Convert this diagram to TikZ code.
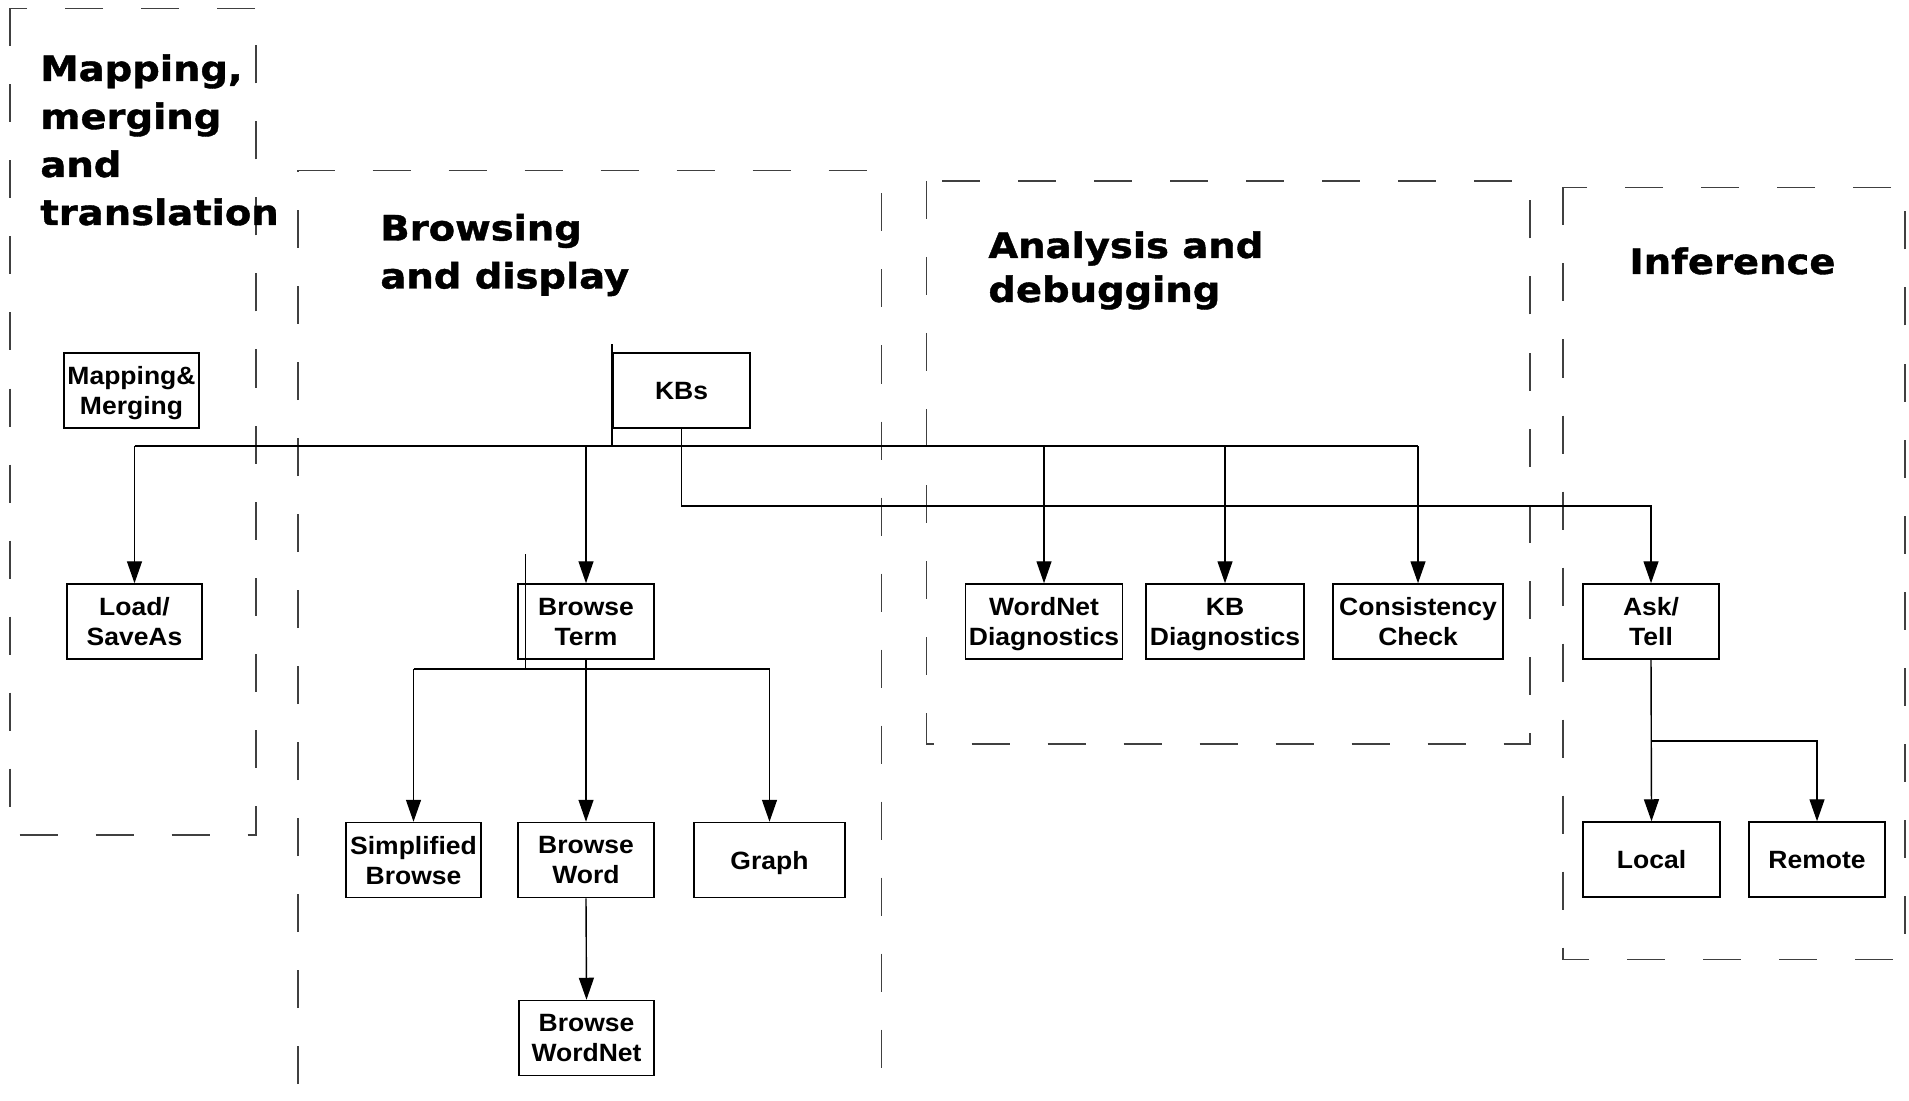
\documentclass[tikz,border=0pt]{standalone}
\usepackage{fontspec}
\setmainfont{Liberation Sans}[FakeStretch=1.06]
\newfontfamily\titlefont{DejaVu Sans}[FakeStretch=1.1, BoldFeatures={FakeBold=1.2}]
\usetikzlibrary{arrows.meta,calc}

\begin{document}
\begin{tikzpicture}[x=0.5pt,y=-0.5pt,
  box/.style={draw, line width=0.75pt, inner sep=0pt, minimum height=37.5pt,
    text depth=0pt, align=center, font=\fontsize{12.5}{15}\selectfont\bfseries},
  bw/.style={minimum width=#1*0.5pt},
  title/.style={inner sep=0pt, anchor=base west,
    font=\titlefont\fontsize{17.5}{24}\selectfont\bfseries},
  region/.style={draw=black!75, line width=0.65pt, dash pattern=on 19pt off 19pt},
  link/.style={line width=0.7pt},
  trunk/.style={line width=1.1pt},
  arr/.style={line width=0.7pt, -{Triangle[length=11pt,width=7.5pt]}}
]
\useasboundingbox (0,0) rectangle (1909,1101);
\clip (0,0) rectangle (1909,1101);

% ---- region frames ----
\draw[region] (10,8.5) rectangle (256,835);
\draw[region] (298,1160) -- (298,170.5) -- (881.5,170.5) -- (881.5,1160);
\draw[region] (926.5,181) rectangle (1530,744);
\draw[region] (1563,187.5) rectangle (1905,959.5);

% ---- region titles ----
\node[title] (tm1) at (40,81)  {Mapping,};
\node[title] (tm2) at (40,129) {merging};
\node[title] (tm3) at (40,177) {and};
\node[title] (tm4) at (40,225) {translation};
\node[title] (tb1) at (380,240.5) {Browsing};
\node[title] (tb2) at (380,288.5) {and display};
\node[title] (ta1) at (988,258) {Analysis and};
\node[title] (ta2) at (988,302) {debugging};
\node[title] (ti1) at (1629,274) {Inference};

% ---- components ----
\node[box,bw=135] (mm)     at (131.5,390.5) {Mapping\&\\Merging};
\node[box,bw=135] (load)   at (134.5,621.5) {Load/\\SaveAs};
\node[box,bw=137] (kbs)    at (681.5,390.5) {KBs};
\node[box,bw=136] (term)   at (586,621.5)   {Browse\\Term};
\node[box,bw=157] (wnd)    at (1044,621.5)  {WordNet\\Diagnostics};
\node[box,bw=158] (kbd)    at (1225,621.5)  {KB\\Diagnostics};
\node[box,bw=170] (cons)   at (1418,621.5)  {Consistency\\Check};
\node[box,bw=136] (ask)    at (1651,621.5)  {Ask/\\Tell};
\node[box,bw=137] (local)  at (1651.5,859.5) {Local};
\node[box,bw=136] (remote) at (1817,859.5)  {Remote};
\node[box,bw=135] (simp)   at (413.5,860)   {Simplified\\Browse};
\node[box,bw=136] (bword)  at (586,860)     {Browse\\Word};
\node[box,bw=151] (graph)  at (769.5,860)   {Graph};
\node[box,bw=135] (bwn)    at (586.5,1038)  {Browse\\WordNet};

% ---- helper levels ----
\coordinate (busY)  at (0,446);
\coordinate (kbY)   at (0,506);
\coordinate (subY)  at (0,669);
\coordinate (askY)  at (0,741);
\coordinate (tl)    at ($(term.north west)+(8,0)$);

% ---- KB distribution bus ----
\draw[trunk] ($(kbs.north west)+(0,-8)$) -- (kbs.north west |- busY);
\draw[link] (load.north |- busY) -- (kbs.north west |- busY);
\draw[trunk] (kbs.north west |- busY) -- (kbd.north |- busY);
\draw[link] (kbd.north |- busY) -- (cons.north |- busY);
\draw[arr] (load.north |- busY) -- (load.north);
\draw[arr] (term.north |- busY) -- (term.north);
\draw[arr] (wnd.north |- busY) -- (wnd.north);
\draw[arr] (kbd.north |- busY) -- (kbd.north);
\draw[arr] (cons.north |- busY) -- (cons.north);

% ---- KBs to inference ----
\draw[arr] (kbs.south) -- (kbs.south |- kbY) -- (ask.north |- kbY) -- (ask.north);

% ---- browsing sub-tree ----
\draw[link] ($(tl)+(0,-29)$) -- (tl |- subY);
\draw[link] (simp.north |- subY) -- (graph.north |- subY);
\draw[arr] (term.south) -- (bword.north);
\draw[arr] (simp.north |- subY) -- (simp.north);
\draw[arr] (graph.north |- subY) -- (graph.north);
\draw[arr] (bword.south) -- (bwn.north);

% ---- inference sub-tree ----
\draw[arr] (ask.south) -- (local.north);
\draw[arr] (ask.south |- askY) -- (remote.north |- askY) -- (remote.north);
\end{tikzpicture}
\end{document}
